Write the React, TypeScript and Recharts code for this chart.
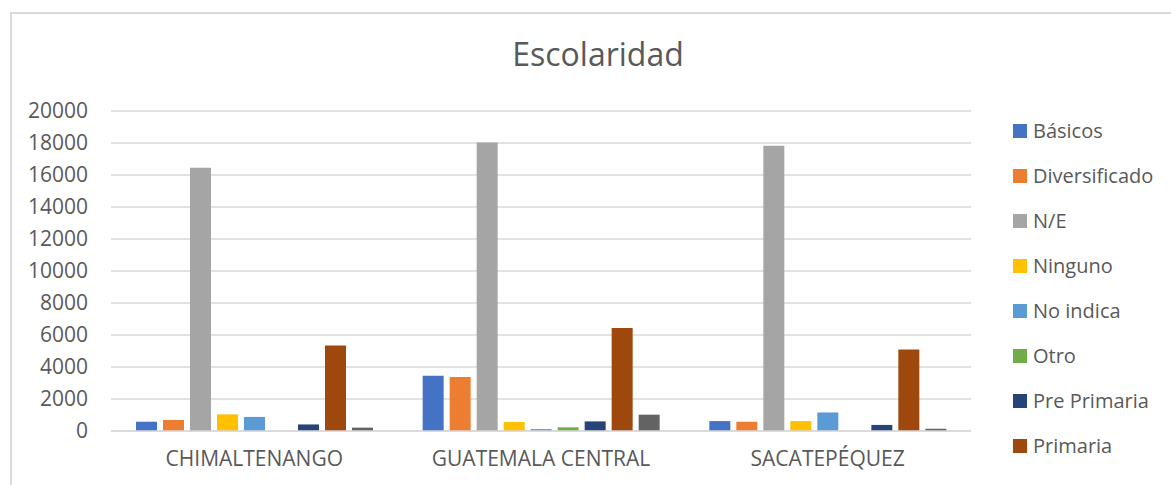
import React from 'react';
import { BarChart, Bar, XAxis, YAxis, CartesianGrid, Legend } from 'recharts';

const categories = ['CHIMALTENANGO', 'GUATEMALA CENTRAL', 'SACATEPÉQUEZ'];

const basicos = [580, 3460, 620];
const diversificado = [690, 3380, 580];
const noEspecifica = [16460, 18030, 17830];
const ninguno = [1040, 560, 620];
const noIndica = [880, 120, 1160];
const otro = [0, 230, 0];
const prePrimaria = [410, 600, 380];
const primaria = [5340, 6440, 5100];
const universitario = [210, 1020, 140];

const yTicks = [0, 2000, 4000, 6000, 8000, 10000, 12000, 14000, 16000, 18000, 20000];

// the last series' legend entry falls below the visible frame, so it is not listed
const SERIES = [
  { key: 'Básicos', values: basicos, color: '#4472C4', inLegend: true },
  { key: 'Diversificado', values: diversificado, color: '#ED7D31', inLegend: true },
  { key: 'N/E', values: noEspecifica, color: '#A5A5A5', inLegend: true },
  { key: 'Ninguno', values: ninguno, color: '#FFC000', inLegend: true },
  { key: 'No indica', values: noIndica, color: '#5B9BD5', inLegend: true },
  { key: 'Otro', values: otro, color: '#70AD47', inLegend: true },
  { key: 'Pre Primaria', values: prePrimaria, color: '#264478', inLegend: true },
  { key: 'Primaria', values: primaria, color: '#9E480E', inLegend: true },
  { key: 'Universitario', values: universitario, color: '#636363', inLegend: false },
];

const data = categories.map((name, i) => {
  const row: Record<string, string | number> = { name };
  SERIES.forEach(s => {
    row[s.key] = s.values[i];
  });
  return row;
});

const FONT = '"Open Sans", sans-serif';
const TEXT = '#595959';

// legend drawn as a plain vertical list, 45px per row
function LegendList({ payload }: any) {
  const items = (payload || []).filter((p: any) => p.type !== 'none');
  return (
    <ul style={{ listStyle: 'none', margin: 0, padding: 0 }}>
      {items.map((p: any) => (
        <li
          key={p.value}
          style={{ height: 45, display: 'flex', alignItems: 'center', fontFamily: FONT, fontSize: 20, color: TEXT }}
        >
          <span style={{ width: 14, height: 14, background: p.color, display: 'inline-block', marginRight: 6 }} />
          {p.value}
        </li>
      ))}
    </ul>
  );
}

export default function App() {
  return (
    <div style={{ position: 'absolute', left: 0, top: 0, width: 1171, height: 485, overflow: 'hidden', background: '#fff' }}>
      {/** chart frame, cut off at right and bottom */}
      <div style={{ position: 'absolute', left: 10, top: 12, width: 1200, height: 520, border: '2px solid #d9d9d9', boxSizing: 'border-box' }} />

      <div style={{ position: 'absolute', left: 0, top: 32, width: 1196, textAlign: 'center', fontFamily: FONT, fontSize: 32, color: TEXT }}>
        Escolaridad
      </div>

      <div style={{ position: 'absolute', left: 0, top: 0 }}>
        <BarChart
          width={1171}
          height={485}
          data={data}
          margin={{ top: 111, right: 200, bottom: 0, left: 0 }}
          barSize={21}
          barGap={6}
        >
          <CartesianGrid vertical={false} stroke="#d9d9d9" strokeWidth={1.5} />
          <XAxis
            dataKey="name"
            height={54}
            tickLine={false}
            tickSize={0}
            tickMargin={20}
            axisLine={{ stroke: '#d9d9d9', strokeWidth: 1.5 }}
            tick={{ fill: TEXT, fontSize: 21, fontFamily: FONT }}
          />
          <YAxis
            width={111}
            domain={[0, 20000]}
            ticks={yTicks}
            interval={0}
            tickLine={false}
            tickSize={0}
            tickMargin={23}
            axisLine={false}
            tick={{ fill: TEXT, fontSize: 21, fontFamily: FONT }}
          />
          <Legend
            layout="horizontal"
            verticalAlign="middle"
            align="center"
            content={<LegendList />}
            wrapperStyle={{ left: 1013, top: 108, width: 158, height: 370 }}
          />
          {SERIES.map(s => (
            <Bar
              key={s.key}
              dataKey={s.key}
              fill={s.color}
              legendType={s.inLegend ? 'square' : 'none'}
              isAnimationActive={false}
            />
          ))}
        </BarChart>
      </div>
    </div>
  );
}
